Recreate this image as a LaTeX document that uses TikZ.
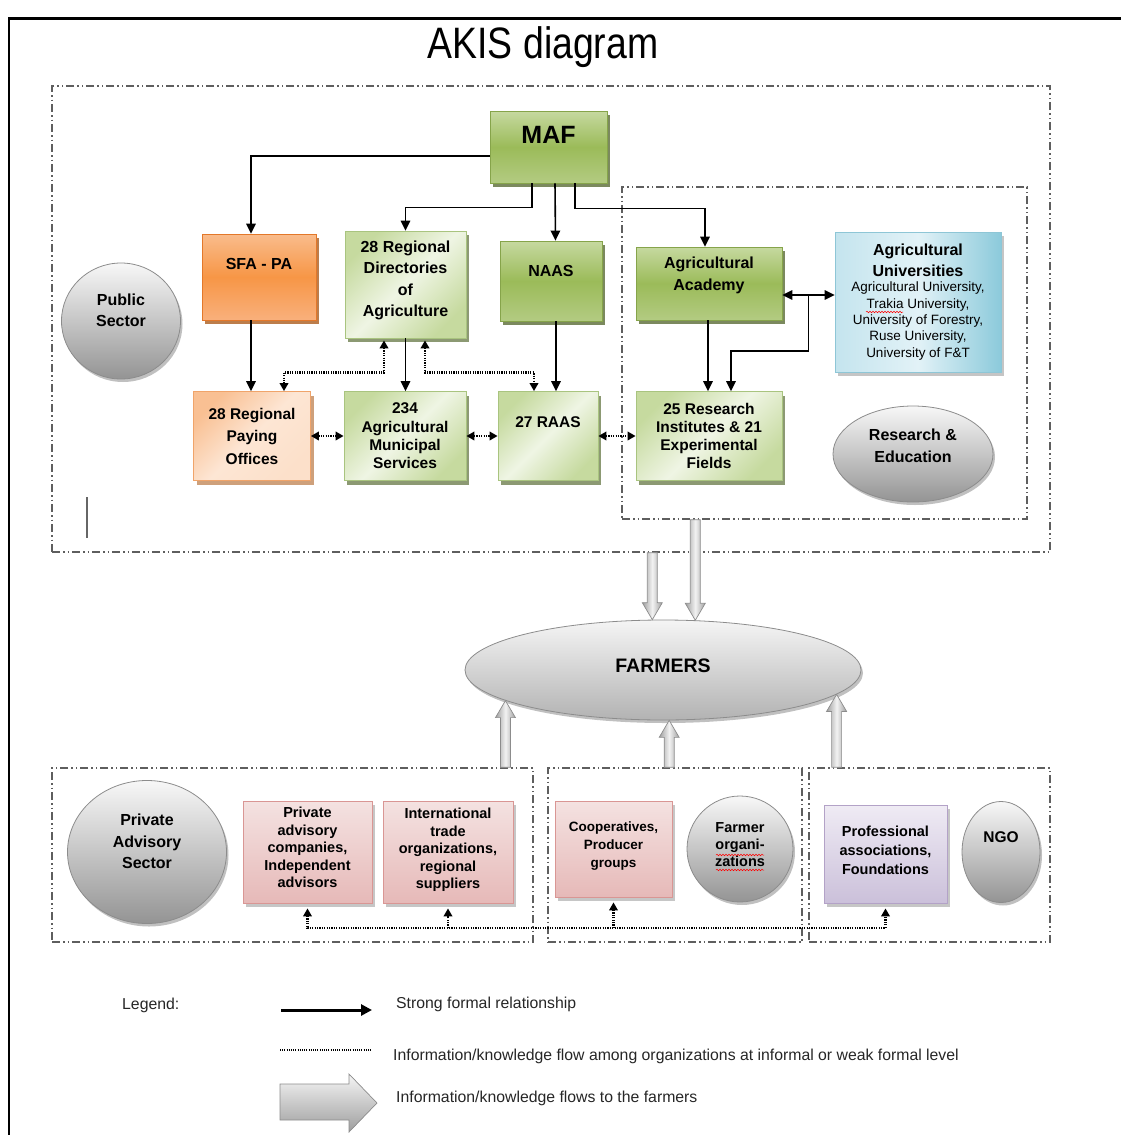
\documentclass[tikz,border=0pt]{standalone}
\usepackage{fontspec}
\setmainfont{Liberation Sans}
\newfontfamily\titlefont[FakeStretch=0.85]{Liberation Sans}
\usetikzlibrary{arrows.meta,shadows,shapes.geometric,calc,decorations.pathmorphing}

\definecolor{gT}{HTML}{C6D9A0}
\definecolor{gM}{HTML}{9BBB59}
\definecolor{gB}{HTML}{B3CB82}
\definecolor{gD}{HTML}{86A44A}
\definecolor{gS}{HTML}{4F6228}
\definecolor{lgE}{HTML}{C6DA9F}
\definecolor{lgM}{HTML}{EFF5E4}
\definecolor{lgD}{HTML}{A9C47F}
\definecolor{oT}{HTML}{F9BC8C}
\definecolor{oM}{HTML}{F79646}
\definecolor{oB}{HTML}{F9B07C}
\definecolor{oD}{HTML}{E3782A}
\definecolor{oS}{HTML}{A5520F}
\definecolor{loE}{HTML}{F9C093}
\definecolor{loM}{HTML}{FDE6D4}
\definecolor{loR}{HTML}{FCE0CA}
\definecolor{loD}{HTML}{F0A46A}
\definecolor{bE}{HTML}{C4E4EE}
\definecolor{bM}{HTML}{E2F2F7}
\definecolor{bR}{HTML}{8CCADB}
\definecolor{bD}{HTML}{8EC6D6}
\definecolor{pT}{HTML}{F4E2E1}
\definecolor{pB}{HTML}{E6B9B8}
\definecolor{pD}{HTML}{D99694}
\definecolor{vT}{HTML}{EFEBF4}
\definecolor{vB}{HTML}{CBC0DA}
\definecolor{vD}{HTML}{B3A2C7}
\definecolor{contc}{HTML}{5E5E5E}

\tikzset{
  shbox/.style={rectangle, inner sep=0pt, line width=0.8pt},
  gbox/.style={shbox, draw=gD, top color=gT, bottom color=gB, middle color=gM,
    drop shadow={shadow xshift=3pt, shadow yshift=-4pt, fill=gS, opacity=.75}},
  lgbox/.style={shbox, draw=lgD, left color=lgE, right color=lgE, middle color=lgM, shading angle=45,
    drop shadow={shadow xshift=3pt, shadow yshift=-4pt, fill=gS, opacity=.65}},
  obox/.style={shbox, draw=oD, top color=oT, bottom color=oB, middle color=oM,
    drop shadow={shadow xshift=3pt, shadow yshift=-4pt, fill=oS, opacity=.75}},
  lobox/.style={shbox, draw=loD, left color=loE, right color=loR, middle color=loM, shading angle=45,
    drop shadow={shadow xshift=3pt, shadow yshift=-4pt, fill=oS, opacity=.55}},
  bbox/.style={shbox, draw=bD, left color=bE, right color=bR, middle color=bM,
    drop shadow={shadow xshift=3pt, shadow yshift=-4pt, fill=black!45, opacity=.5}},
  pbox/.style={shbox, draw=pD, top color=pT, bottom color=pB,
    drop shadow={shadow xshift=3pt, shadow yshift=-4pt, fill=black!50, opacity=.45}},
  vbox/.style={shbox, draw=vD, top color=vT, bottom color=vB,
    drop shadow={shadow xshift=3pt, shadow yshift=-4pt, fill=black!50, opacity=.45}},
  gell/.style={ellipse, inner sep=0pt, draw=black!45, line width=0.8pt, top color=black!3, bottom color=black!42,
    drop shadow={shadow xshift=2pt, shadow yshift=-3pt, fill=black!55, opacity=.45}},
  contbox/.style={rectangle, inner sep=0pt, draw=contc, line width=1.4pt,
    dash pattern=on 8pt off 3pt on 1.5pt off 3pt on 1.5pt off 3pt},
  tx/.style={align=center, inner sep=0pt, text=black},
  t25/.style={tx, font=\bfseries\fontsize{25}{30}\selectfont},
  t19/.style={tx, font=\bfseries\fontsize{19.5}{23}\selectfont},
  t16/.style={tx, font=\bfseries\fontsize{16}{21.5}\selectfont},
  t15/.style={tx, font=\bfseries\fontsize{15.5}{18.3}\selectfont},
  t15w/.style={tx, font=\bfseries\fontsize{15.5}{22.5}\selectfont},
  t14/.style={tx, font=\bfseries\fontsize{14.5}{17.5}\selectfont},
  t14b/.style={tx, font=\bfseries\fontsize{14.5}{19}\selectfont},
  t14c/.style={tx, font=\bfseries\fontsize{14.5}{17}\selectfont},
  t13b/.style={tx, font=\bfseries\fontsize{13.5}{18}\selectfont},
  t13/.style={tx, font=\fontsize{13.5}{16.3}\selectfont},
  lg/.style={inner sep=0pt, anchor=west, text=black!85, font=\fontsize{15.8}{18}\selectfont},
  sarr/.style={draw=black, line width=1.6pt, >={Triangle[length=10pt,width=9.5pt]}},
  dotarr/.style={draw=black, line width=2.5pt, dash pattern=on 1.2pt off 1.2pt,
    >={Triangle[length=8pt,width=8.5pt]}},
  bigarr/.style={draw=black!45, line width=0.7pt, left color=black!38, right color=black!38, middle color=black!5},
  squig/.style={draw=red, line width=0.5pt, decorate, decoration={snake, amplitude=0.8pt, segment length=3pt}}
}

\newcommand\fatdown[2]{%
  \path[bigarr] let \p1=(#1), \p2=(#2) in
    (\x1-5pt,\y1) -- (\x1-5pt,\y2+17pt) -- (\x1-10pt,\y2+17pt) -- (\x1,\y2)
    -- (\x1+10pt,\y2+17pt) -- (\x1+5pt,\y2+17pt) -- (\x1+5pt,\y1) -- cycle;}
\newcommand\fatup[2]{%
  \path[bigarr] let \p1=(#1), \p2=(#2) in
    (\x2-5pt,\y1) -- (\x2-5pt,\y2-17pt) -- (\x2-10pt,\y2-17pt) -- (\x2,\y2)
    -- (\x2+10pt,\y2-17pt) -- (\x2+5pt,\y2-17pt) -- (\x2+5pt,\y1) -- cycle;}

\begin{document}
\begin{tikzpicture}[x=1pt,y=-1pt]
\useasboundingbox (0,0) rectangle (1121,1135);

% frame
\draw[line width=3pt] (8,18) -- (1121,18);
\draw[line width=2.2pt] (9,17) -- (9,1135);

% title
\node[font=\titlefont\fontsize{44}{50}\selectfont, anchor=base, inner sep=0pt] (title) at (543,58) {AKIS diagram};

% containers
\node[contbox, minimum width=998pt, minimum height=466pt] (pubbox) at (551,319) {};
\node[contbox, minimum width=405pt, minimum height=332pt] (rebox) at (824.5,353) {};
\node[contbox, minimum width=481pt, minimum height=174pt] (privbox) at (292.5,855) {};
\node[contbox, minimum width=254pt, minimum height=174pt] (coopbox) at (675,855) {};
\node[contbox, minimum width=241pt, minimum height=174pt] (ngobox) at (929.5,855) {};

% stray mark
\draw[black!60, line width=1.8pt] (87,497) -- (87,538);

% row 1
\node[gbox, minimum width=117pt, minimum height=72pt, label={[t25,yshift=12pt]center:MAF}] (maf) at (548.5,147) {};
\node[obox, minimum width=114pt, minimum height=86pt, label={[t16,yshift=13pt]center:SFA - PA}] (sfa) at (259,277) {};
\node[lgbox, minimum width=121pt, minimum height=107pt, label={[t16,yshift=4pt]center:{28 Regional\\Directories\\of\\Agriculture}}] (rd) at (405.5,284.5) {};
\node[gbox, minimum width=102pt, minimum height=80pt, label={[t16,yshift=10pt]center:NAAS}] (naas) at (551,281) {};
\node[gbox, minimum width=146pt, minimum height=73pt, label={[t16,yshift=8pt]center:{Agricultural\\Academy}}] (acad) at (709,283.5) {};
\node[bbox, minimum width=166pt, minimum height=140pt,
  label={[t16,yshift=41.5pt]center:{Agricultural\\Universities}},
  label={[t13,yshift=-19pt]center:{Agricultural University,\\Trakia University,\\University of Forestry,\\Ruse University,\\University of F\&T}}] (univ) at (918,302) {};
\node[gell, minimum width=119pt, minimum height=116pt, label={[t16,yshift=10.5pt]center:{Public\\Sector}}] (pubsec) at (121,321) {};

% row 2
\node[lobox, minimum width=117pt, minimum height=89pt, label={[t15w]center:{28 Regional\\Paying\\Offices}}] (pay) at (252,436) {};
\node[lgbox, minimum width=122pt, minimum height=89pt, label={[t15]center:{234\\Agricultural\\Municipal\\Services}}] (mun) at (405,436) {};
\node[lgbox, minimum width=100pt, minimum height=89pt, label={[t15,yshift=13.5pt]center:27 RAAS}] (raas) at (548,436) {};
\node[lgbox, minimum width=146pt, minimum height=89pt, label={[t15]center:{25 Research\\Institutes \& 21\\Experimental\\Fields}}] (ri) at (709,436) {};
\node[gell, minimum width=160pt, minimum height=96pt, label={[t16,yshift=8pt]center:{Research \&\\Education}}] (re) at (913,454) {};

% farmers
\node[gell, minimum width=396pt, minimum height=100pt, top color=black!4, bottom color=black!30, label={[t19,yshift=4.5pt]center:FARMERS}] (farmers) at (663,670) {};

% bottom row
\node[gell, minimum width=159pt, minimum height=143pt, label={[t16,yshift=10.5pt]center:{Private\\Advisory\\Sector}}] (pas) at (147,852) {};
\node[pbox, minimum width=129pt, minimum height=102pt, label={[t14,yshift=4.5pt]center:{Private\\advisory\\companies,\\Independent\\advisors}}] (pac) at (307.5,852) {};
\node[pbox, minimum width=130pt, minimum height=102pt, label={[t14,yshift=2pt]center:{International\\trade\\organizations,\\regional\\suppliers}}] (itr) at (448,852) {};
\node[pbox, minimum width=117pt, minimum height=96pt, label={[t13b,yshift=3pt]center:{Cooperatives,\\Producer\\groups}}] (coop) at (613.5,849) {};
\node[gell, minimum width=106pt, minimum height=106pt, label={[t14c,yshift=4.5pt]center:{Farmer\\organi-\\zations}}] (forg) at (740,849) {};
\node[vbox, minimum width=123pt, minimum height=98pt, label={[t14b,yshift=4pt]center:{Professional\\associations,\\Foundations}}] (prof) at (885.5,854) {};
\node[gell, minimum width=78pt, minimum height=101pt, label={[t15,yshift=14.5pt]center:NGO}] (ngo) at (1001,852) {};

% spell-check squiggles
\draw[squig] (866,312) -- (903,312);
\draw[squig] (716,855) -- (764,855);
\draw[squig] (716,870) -- (764,870);

% solid arrows
\draw[sarr,->] ([yshift=-9pt]maf.west) -| ([xshift=-8pt]sfa.north);
\draw[sarr,->] ([xshift=-16.5pt]maf.south) -- ++(0,24) -| (rd.north);
\draw[sarr,->] ([xshift=6.5pt]maf.south) -- ([xshift=4.5pt]naas.north);
\draw[sarr,->] ([xshift=26.5pt]maf.south) -- ++(0,25) -| ([xshift=-4pt]acad.north);
\draw[sarr,->] ([xshift=-8pt]sfa.south) -- ([xshift=-1pt]pay.north);
\draw[sarr,->] (rd.south) -- (rd.south |- mun.north);
\draw[sarr,->] ([xshift=5pt]naas.south) -- ([xshift=8pt]raas.north);
\draw[sarr,->] ([xshift=-1pt]acad.south) -- ([xshift=-1pt]ri.north);
\draw[sarr,<->] ([yshift=-11.5pt]acad.east) -- ([yshift=-11.5pt]acad.east -| univ.west);
\coordinate (jn) at ($([yshift=-11.5pt]acad.east)!0.5!([yshift=-11.5pt]acad.east -| univ.west)$);
\draw[sarr,->] (jn) -- ++(0,56) -| ([xshift=22pt]ri.north);

% dotted arrows
\draw[dotarr,<->] ([xshift=-21.5pt,yshift=-2pt]rd.south) -- ++(0,32) -| ([xshift=32pt]pay.north);
\draw[dotarr,<->] ([xshift=19.5pt,yshift=-2pt]rd.south) -- ++(0,32) -| ([xshift=-14pt]raas.north);
\draw[dotarr,<->] (pay.east) -- (mun.west);
\draw[dotarr,<->] (mun.east) -- (raas.west);
\draw[dotarr,<->] (raas.east) -- (ri.west);

\coordinate (bus) at (0,928);
\draw[dotarr,<->] ([yshift=-5pt]pac.south) -- (pac.south |- bus) -- (prof.south |- bus) -- ([yshift=-5pt]prof.south);
\draw[dotarr,->] (itr.south |- bus) -- ([yshift=-5pt]itr.south);
\draw[dotarr,->] (coop.south |- bus) -- ([yshift=-5pt]coop.south);

% big arrows to farmers
\coordinate (d1) at (farmers.102.4);
\coordinate (d2) at (farmers.57);
\coordinate (u1) at (farmers.-169.8);
\coordinate (u2) at (farmers.-83);
\coordinate (u3) at (farmers.-8.3);
\fatdown{pubbox.south -| d1}{d1}
\fatdown{rebox.south -| d2}{d2}
\fatup{privbox.north -| u1}{u1}
\fatup{coopbox.north -| u2}{u2}
\fatup{ngobox.north -| u3}{u3}

% legend
\node[lg] (leg) at (122,1005) {Legend:};
\coordinate (l1a) at (281,1010);
\coordinate (l1b) at (372,1010);
\draw[line width=3pt, -{Triangle[length=11pt,width=11pt]}] (l1a) -- (l1b);
\node[lg] (lt1) at (396,1004) {Strong formal relationship};
\coordinate (l2a) at (280,1050);
\coordinate (l2b) at (372,1050);
\draw[line width=2pt, dash pattern=on 1pt off 1.2pt] (l2a) -- (l2b);
\node[lg] (lt2) at (393,1056) {Information/knowledge flow among organizations at informal or weak formal level};
\path[draw=black!45, line width=0.7pt, top color=black!4, bottom color=black!38]
  (280,1084) -- (349,1084) -- (349,1074) -- (377,1103) -- (349,1132) -- (349,1120) -- (280,1120) -- cycle;
\node[lg] (lt3) at (396,1098) {Information/knowledge flows to the farmers};
\end{tikzpicture}
\end{document}
